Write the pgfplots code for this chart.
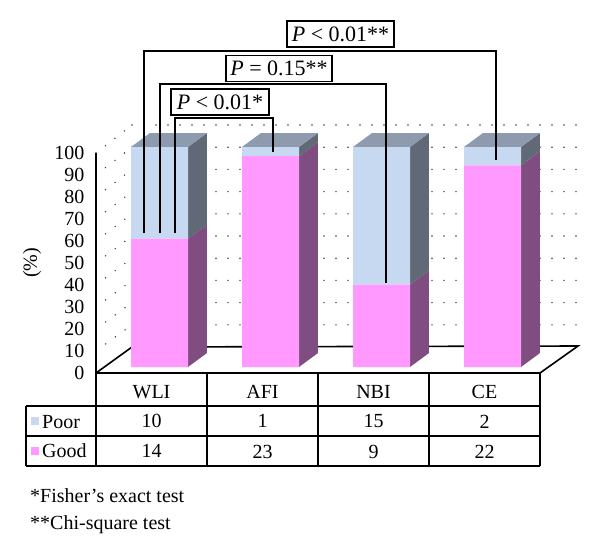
\documentclass[border=0pt]{standalone}
\usepackage{fontspec}
\setmainfont{Liberation Serif}
\usepackage{pgfplots}
\usepackage{pgfplotstable}
\pgfplotsset{compat=1.18}
\definecolor{goodfront}{HTML}{FF99FF}
\definecolor{goodside}{HTML}{7F4D80}
\definecolor{poorfront}{HTML}{C6D9F1}
\definecolor{poorside}{HTML}{606975}
\definecolor{topc}{HTML}{8E9AAD}
\pgfplotstableread{
cat good poor goodpct poorpct
0 14 10 58.33 41.67
1 23 1 95.83 4.17
2 9 15 37.50 62.50
3 22 2 91.67 8.33
}\bardata
\newcommand\dxb{0.171}
\newcommand\dyb{6.36}
\newcommand\hw{0.2568}
\newcommand\threedfaces[2]{%
  \pgfmathsetmacro\xL{#1-\hw}%
  \pgfmathsetmacro\xR{#1+\hw}%
  \pgfmathsetmacro\xLb{#1-\hw+\dxb}%
  \pgfmathsetmacro\xRb{#1+\hw+\dxb}%
  \pgfmathsetmacro\yG{#2}%
  \pgfmathsetmacro\yGb{#2+\dyb}%
  \pgfmathsetmacro\yT{100+\dyb}%
  \addplot[fill=goodside,draw=none] coordinates {(\xR,0) (\xRb,\dyb) (\xRb,\yGb) (\xR,\yG)};
  \addplot[fill=poorside,draw=none] coordinates {(\xR,\yG) (\xRb,\yGb) (\xRb,\yT) (\xR,100)};
  \addplot[fill=topc,draw=none] coordinates {(\xL,100) (\xLb,\yT) (\xRb,\yT) (\xR,100)};
}
\pgfplotsset{bargeom/.style={at={(104pt,-367pt)}, anchor=south west, scale only axis,
  width=444pt, height=220pt, xmin=-0.5, xmax=3.5, ymin=0, ymax=100, hide axis, clip=false}}
\begin{document}
\begin{tikzpicture}
\useasboundingbox (0,0) rectangle (600pt,-558pt);
% walls and floor
\begin{scope}[x=1pt,y=-1pt]
  \foreach \k in {1,...,10} {
    \draw[line width=1.6pt, dash pattern=on 0pt off 12pt, line cap=round, black!75]
      (96,{373-22*\k}) -- (132,{347-22.2*\k});
    \draw[line width=1.6pt, dash pattern=on 0pt off 12pt, line cap=round, black!75]
      (132,{347-22.2*\k}) -- (578,{347-22.2*\k});
  }
  \draw[line width=1.6pt] (96,373) -- (132,347) -- (578,346) -- (540,373);
\end{scope}
% front plane axis with y scale and categories
\begin{axis}[at={(96pt,-373pt)}, anchor=south west, scale only axis,
  width=444pt, height=220pt, xmin=-0.5, xmax=3.5, ymin=0, ymax=100,
  axis lines=left, axis line style={-, line width=1.6pt, black},
  ytick={0,10,...,100}, xtick={0,1,2,3}, xticklabels={WLI,AFI,NBI,CE},
  major tick length=0pt,
  tick label style={font=\fontsize{20}{24}\selectfont},
  /pgf/number format/assume math mode=true,
  yticklabel style={xshift=-8pt},
  xticklabel style={anchor=base, yshift=-25pt},
  ylabel={(\%)},
  ylabel style={font=\fontsize{20}{24}\selectfont, at={(axis description cs:-0.144,0.5)}, anchor=center},
  clip=false]
\end{axis}
% 3D side and top faces
\begin{axis}[bargeom]
\threedfaces{0}{58.33}
\threedfaces{1}{95.83}
\threedfaces{2}{37.5}
\threedfaces{3}{91.67}
\end{axis}
% front faces of the stacked bars
\begin{axis}[bargeom, ybar stacked, bar width=57pt]
\addplot[fill=goodfront, draw=none] table[x=cat, y=goodpct] {\bardata};
\addplot[fill=poorfront, draw=none] table[x=cat, y=poorpct] {\bardata};
\end{axis}
% annotations
\begin{scope}[x=1pt,y=-1pt]
  \draw[line width=1.6pt] (144,233) -- (144,51) -- (496,51) -- (496,160);
  \draw[line width=1.6pt] (160,233) -- (160,84) -- (386,84) -- (386,283);
  \draw[line width=1.6pt] (175,233) -- (175,118) -- (273,118) -- (273,152);
  \tikzset{pbox/.style={draw, fill=white, line width=1.6pt, inner sep=0pt,
     minimum height=26pt, font=\fontsize{22}{26}\selectfont}}
  \node[pbox, minimum width=107pt] at (340.5,34) {\textit{P} < 0.01**};
  \node[pbox, minimum width=106pt] at (279,68.5) {\textit{P} = 0.15**};
  \node[pbox, minimum width=98pt] at (220,102) {\textit{P} < 0.01*};
  % table
  \draw[line width=1.6pt] (96,373) -- (540,373);
  \draw[line width=1.6pt] (26,406) -- (540,406);
  \draw[line width=1.6pt] (26,436) -- (540,436);
  \draw[line width=1.6pt] (26,466) -- (540,466);
  \draw[line width=1.6pt] (26,406) -- (26,466);
  \foreach \xx in {96,207,318,429,540} {\draw[line width=1.6pt] (\xx,373) -- (\xx,466);}
  \tikzset{tt/.style={anchor=base, inner sep=0pt, font=\fontsize{20}{24}\selectfont}}
  \node[tt] at (151.5,427) {10};
  \node[tt] at (262.5,427) {1};
  \node[tt] at (373.5,427) {15};
  \node[tt] at (484.5,428) {2};
  \node[tt] at (151.5,457) {14};
  \node[tt] at (262.5,458) {23};
  \node[tt] at (373.5,458) {9};
  \node[tt] at (484.5,458) {22};
  \fill[poorfront] (31,417) rectangle (39,425);
  \fill[goodfront] (31,447) rectangle (39,455);
  \node[tt, anchor=base west] at (42,428) {Poor};
  \node[tt, anchor=base west] at (42,457) {Good};
  % footnotes
  \node[tt, anchor=base west] at (30,502) {*Fisher’s exact test};
  \node[tt, anchor=base west] at (30,529) {**Chi-square test};
\end{scope}
\end{tikzpicture}
\end{document}
